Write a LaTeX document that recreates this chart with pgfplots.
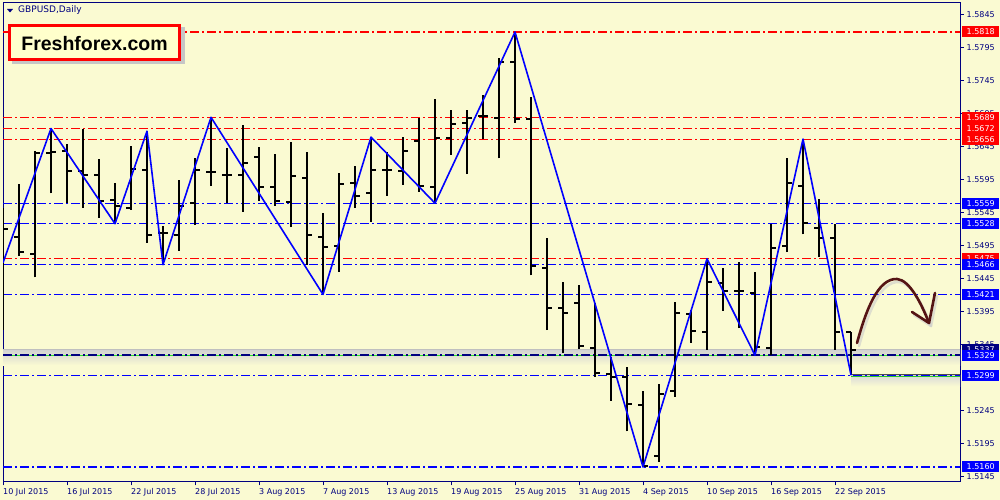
\documentclass[border=0pt]{standalone}
\usepackage{fontspec}
\setmainfont{DejaVu Sans}
\newfontfamily\logofont{Liberation Sans}
\usepackage{pgfplots}
\usepackage{pgfplotstable}
\pgfplotsset{compat=1.18}
\definecolor{bg}{HTML}{FAFAD2}
\definecolor{navy}{HTML}{000080}
\definecolor{logobg}{HTML}{FFFFCC}
\definecolor{arrowbrown}{RGB}{85,20,20}
\definecolor{lvred}{RGB}{255,0,0}
\definecolor{lvblue}{RGB}{0,0,255}
\definecolor{lvgreen}{RGB}{40,230,40}
\definecolor{lvgreenb}{RGB}{40,200,40}

\pgfplotstableread{
i O H L C
0 1.5480 1.5552 1.5367 1.5520
1 1.5508 1.5588 1.5479 1.5485
2 1.5482 1.5638 1.5447 1.5635
3 1.5635 1.5672 1.5574 1.5636
4 1.5638 1.5649 1.5559 1.5608
5 1.5608 1.5671 1.5552 1.5602
6 1.5602 1.5626 1.5537 1.5562
7 1.5564 1.5590 1.5528 1.5555
8 1.5552 1.5646 1.5549 1.5611
9 1.5609 1.5668 1.5499 1.5511
10 1.5514 1.5525 1.5466 1.5514
11 1.5511 1.5594 1.5487 1.5555
12 1.5559 1.5627 1.5526 1.5609
13 1.5606 1.5689 1.5585 1.5606
14 1.5602 1.5643 1.5559 1.5602
15 1.5602 1.5677 1.5546 1.5620
16 1.5629 1.5644 1.5562 1.5584
17 1.5584 1.5633 1.5555 1.5562
18 1.5561 1.5652 1.5523 1.5600
19 1.5597 1.5636 1.5466 1.5511
20 1.5508 1.5544 1.5421 1.5493
21 1.5494 1.5605 1.5455 1.5588
22 1.5590 1.5615 1.5552 1.5570
23 1.5574 1.5659 1.5531 1.5609
24 1.5609 1.5636 1.5570 1.5609
25 1.5608 1.5659 1.5587 1.5638
26 1.5653 1.5688 1.5576 1.5585
27 1.5584 1.5717 1.5559 1.5658
28 1.5658 1.5700 1.5632 1.5679
29 1.5680 1.5700 1.5603 1.5688
30 1.5691 1.5723 1.5656 1.5691
31 1.5688 1.5779 1.5627 1.5773
32 1.5773 1.5818 1.5680 1.5686
33 1.5686 1.5720 1.5450 1.5464
34 1.5461 1.5506 1.5367 1.5401
35 1.5401 1.5440 1.5332 1.5393
36 1.5408 1.5435 1.5339 1.5343
37 1.5340 1.5408 1.5296 1.5302
38 1.5301 1.5326 1.5260 1.5296
39 1.5296 1.5311 1.5214 1.5255
40 1.5254 1.5275 1.5160 1.5162
41 1.5177 1.5286 1.5168 1.5270
42 1.5275 1.5410 1.5266 1.5393
43 1.5391 1.5397 1.5348 1.5366
44 1.5364 1.5475 1.5337 1.5440
45 1.5438 1.5461 1.5396 1.5426
46 1.5426 1.5470 1.5370 1.5426
47 1.5423 1.5455 1.5329 1.5342
48 1.5340 1.5528 1.5329 1.5491
49 1.5494 1.5627 1.5485 1.5590
50 1.5585 1.5656 1.5512 1.5529
51 1.5522 1.5565 1.5478 1.5506
52 1.5506 1.5528 1.5337 1.5364
53 1.5364 1.5364 1.5299 1.5337
}\bars

\newcommand\lvl[2]{\draw[#2, line width=1.1pt, dash pattern=on 9pt off 3pt on 2pt off 3pt] (axis cs:0,#1) -- (axis cs:59.8125,#1);}
\newcommand\pricebox[3]{\node[fill=#2, text=white, anchor=west, minimum width=37pt, minimum height=11pt, inner sep=0pt, font=\fontsize{8}{9}\selectfont] at ([xshift=2pt]#1) {#3};}

\begin{document}
\begin{tikzpicture}[x=1pt,y=1pt]
\useasboundingbox (0,0) rectangle (1000,500);
\fill[bg] (0,0) rectangle (1000,500);
\begin{axis}[
  at={(3pt,18pt)}, anchor=south west,
  scale only axis, width=957pt, height=479pt,
  xmin=0, xmax=59.8125, ymin=1.513731, ymax=1.586187,
  axis background/.style={fill=bg},
  axis line style={navy, line width=1pt},
  xtick={0,4,...,52},
  xticklabels={10 Jul 2015,16 Jul 2015,22 Jul 2015,28 Jul 2015,3 Aug 2015,7 Aug 2015,13 Aug 2015,19 Aug 2015,25 Aug 2015,31 Aug 2015,4 Sep 2015,10 Sep 2015,16 Sep 2015,22 Sep 2015},
  ytick={1.5145,1.5195,1.5245,1.5345,1.5395,1.5445,1.5495,1.5545,1.5595,1.5645,1.5695,1.5745,1.5795,1.5845},
  yticklabels={1.5145,1.5195,1.5245,1.5345,1.5395,1.5445,1.5495,1.5545,1.5595,1.5645,1.5695,1.5745,1.5795,1.5845},
  xtick pos=bottom, ytick pos=right, yticklabel pos=right,
  tick align=outside, major tick length=3.5pt,
  tick style={navy, line width=1pt},
  ticklabel style={font=\fontsize{8}{9}\selectfont, text=navy},
  xticklabel style={anchor=north west, inner sep=0pt, yshift=-3pt},
  yticklabel style={anchor=west, inner sep=0pt, xshift=3pt},
]
% shadows
\shade[top color=gray!35, bottom color=bg] (axis cs:0,1.5337) rectangle (axis cs:59.8125,1.5314);
\shade[top color=gray!30, bottom color=bg] (axis cs:53,1.5299) rectangle (axis cs:59.8125,1.5282);
\draw[gray!50, line width=1pt] (axis cs:0,1.5337) -- (axis cs:59.8125,1.5337);
% levels
\lvl{1.5818}{lvred}
\lvl{1.5689}{lvred}
\lvl{1.5672}{lvred}
\lvl{1.5656}{lvred}
\lvl{1.5475}{lvred}
\lvl{1.5559}{lvblue}
\lvl{1.5528}{lvblue}
\lvl{1.5466}{lvblue}
\lvl{1.5421}{lvblue}
\lvl{1.5299}{lvblue}
\lvl{1.5160}{lvblue}
\draw[lvgreen, line width=1.5pt] (axis cs:0,1.5329) -- (axis cs:59.8125,1.5329);
\draw[navy, line width=2pt, dash pattern=on 9pt off 3pt on 2pt off 3pt] (axis cs:0,1.5329) -- (axis cs:59.8125,1.5329);
\draw[black!70, line width=1pt] (axis cs:53,1.53) -- (axis cs:59.8125,1.53);
\draw[lvgreenb, line width=1pt] (axis cs:53,1.5297) -- (axis cs:59.8125,1.5297);
% OHLC bars
\addplot[forget plot, draw=none, mark=none, error bars/.cd, y dir=plus, y explicit, error mark=none, error bar style={draw=black, line width=2.8pt}]
  table[x=i, y=L, y error expr=\thisrow{H}-\thisrow{L}] {\bars};
\addplot[forget plot, draw=none, mark=none, error bars/.cd, x dir=minus, x fixed=0.33, error mark=none, error bar style={draw=black, line width=2pt}]
  table[x=i, y=O] {\bars};
\addplot[forget plot, draw=none, mark=none, error bars/.cd, x dir=plus, x fixed=0.33, error mark=none, error bar style={draw=black, line width=2pt}]
  table[x=i, y=C] {\bars};
% zigzag
\addplot[forget plot, mark=none, draw=lvblue, line width=1.6pt, line join=round] coordinates {
 (0,1.5469) (3,1.5672) (7,1.5528) (9,1.5668) (10,1.5466) (13,1.5689) (20,1.5421) (23,1.5659) (27,1.5559) (32,1.5818) (40,1.5160) (44,1.5475) (47,1.5329) (50,1.5656) (53,1.5299)};
% label anchors
\coordinate (a5818) at (axis cs:59.8125,1.5818);
\coordinate (a5689) at (axis cs:59.8125,1.5689);
\coordinate (a5672) at (axis cs:59.8125,1.5672);
\coordinate (a5656) at (axis cs:59.8125,1.5656);
\coordinate (a5559) at (axis cs:59.8125,1.5559);
\coordinate (a5528) at (axis cs:59.8125,1.5528);
\coordinate (a5475) at (axis cs:59.8125,1.5475);
\coordinate (a5466) at (axis cs:59.8125,1.5466);
\coordinate (a5421) at (axis cs:59.8125,1.5421);
\coordinate (a5337) at (axis cs:59.8125,1.5337);
\coordinate (a5329) at (axis cs:59.8125,1.5329);
\coordinate (a5299) at (axis cs:59.8125,1.5299);
\coordinate (a5160) at (axis cs:59.8125,1.5160);
\end{axis}
\pricebox{a5818}{red}{1.5818}
\pricebox{a5689}{red}{1.5689}
\pricebox{a5672}{red}{1.5672}
\pricebox{a5656}{red}{1.5656}
\pricebox{a5559}{blue}{1.5559}
\pricebox{a5528}{blue}{1.5528}
\pricebox{a5475}{red}{1.5475}
\pricebox{a5466}{blue}{1.5466}
\pricebox{a5421}{blue}{1.5421}
\pricebox{a5337}{navy}{1.5337}
\pricebox{a5329}{blue}{1.5329}
\pricebox{a5299}{blue}{1.5299}
\pricebox{a5160}{blue}{1.5160}
% title
\fill[navy] (7,491) -- (13,491) -- (10,487.5) -- cycle;
\node[anchor=west, inner sep=0pt, text=navy, font=\fontsize{9}{10}\selectfont] at (18,489.5) {GBPUSD,Daily};
% logo
\fill[gray!45] (11.5,435.5) rectangle (184.5,472.5);
\fill[logobg] (8,439) rectangle (181,476);
\draw[red, line width=3pt] (9.5,440.5) rectangle (179.5,474.5);
\node[anchor=base, inner sep=0pt, font=\logofont\bfseries\fontsize{19.5}{22}\selectfont] at (94.5,449) {Freshforex.com};
% arrow
\begin{scope}[line width=2.6pt, line cap=round, line join=round]
\draw[gray!40, opacity=0.6, shift={(2,-3)}] (857,157) .. controls (866,190) and (878,222) .. (897,221) .. controls (910,220) and (922,195) .. (929,177);
\draw[gray!40, opacity=0.6, shift={(2,-3)}] (912,188) -- (929,177) -- (935,207);
\draw[arrowbrown] (857,157) .. controls (866,190) and (878,222) .. (897,221) .. controls (910,220) and (922,195) .. (929,177);
\draw[arrowbrown] (912,188) -- (929,177) -- (935,207);
\end{scope}
\end{tikzpicture}
\end{document}
